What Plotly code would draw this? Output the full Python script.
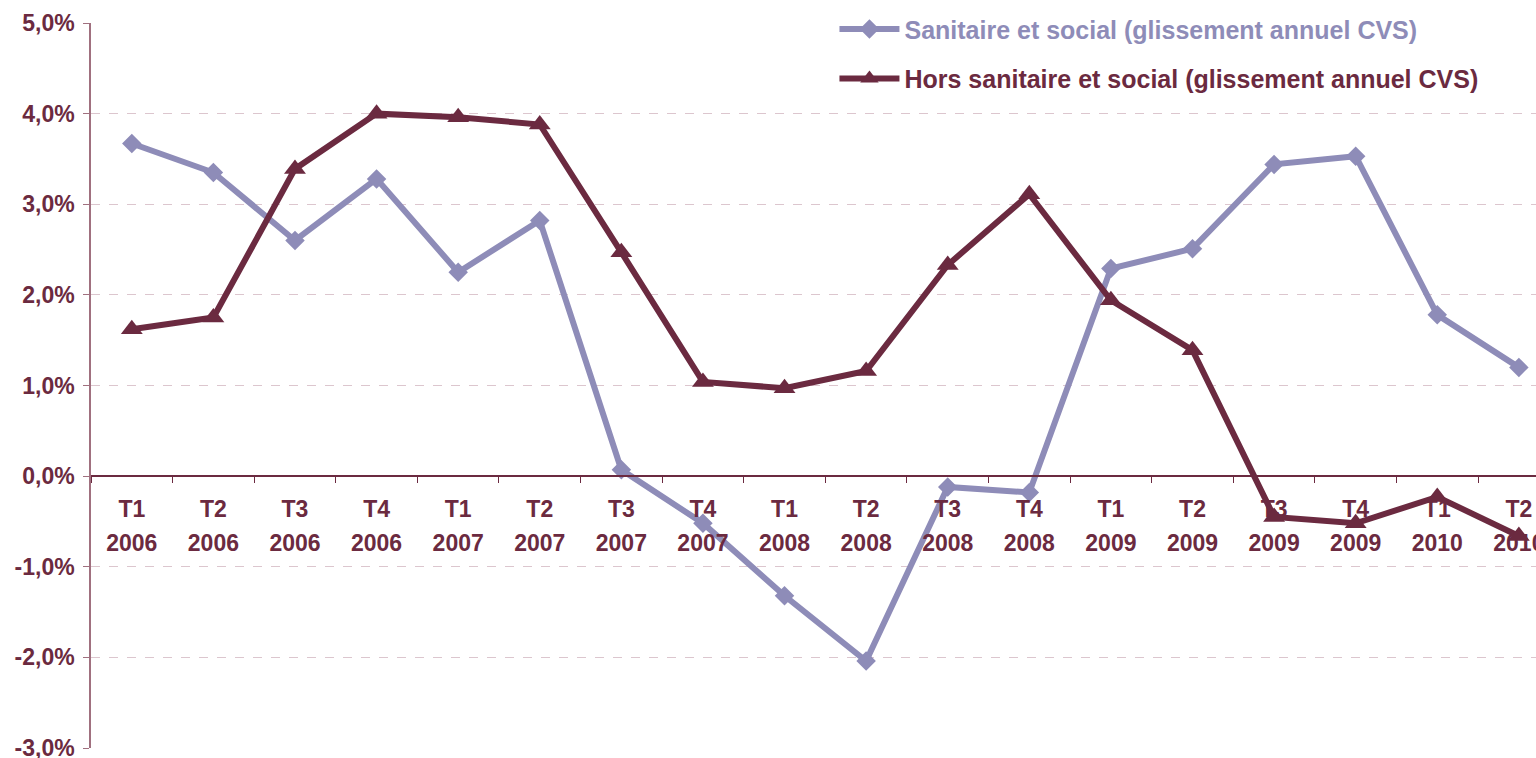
import plotly.graph_objects as go

quarters = ["T1", "T2", "T3", "T4", "T1", "T2", "T3", "T4", "T1", "T2",
            "T3", "T4", "T1", "T2", "T3", "T4", "T1", "T2"]
years = ["2006", "2006", "2006", "2006", "2007", "2007", "2007", "2007", "2008", "2008",
         "2008", "2008", "2009", "2009", "2009", "2009", "2010", "2010"]
sanitaire = [3.67, 3.35, 2.60, 3.28, 2.25, 2.82, 0.07, -0.52, -1.32, -2.04,
             -0.12, -0.18, 2.29, 2.51, 3.44, 3.53, 1.78, 1.20]
hors = [1.62, 1.75, 3.39, 4.00, 3.96, 3.88, 2.47, 1.04, 0.97, 1.16,
        2.33, 3.11, 1.94, 1.39, -0.45, -0.52, -0.23, -0.66]
ytick_vals = [-3, -2, -1, 0, 1, 2, 3, 4, 5]
ytick_text = ["-3,0%", "-2,0%", "-1,0%", "0,0%", "1,0%", "2,0%", "3,0%", "4,0%", "5,0%"]
name_san = "Sanitaire et social (glissement annuel CVS)"
name_hors = "Hors sanitaire et social (glissement annuel CVS)"

C_LIGHT = "#8e8cb8"
C_DARK = "#6b2a40"
C_AXIS = "#a0707f"
FONT = "Liberation Sans"

idx = list(range(len(quarters)))
boundaries = [i - 0.5 for i in range(len(quarters) + 1)]
xr = [-0.5, 17.21]
zero_pos = 3 / 8

fig = go.Figure()
fig.add_trace(go.Scatter(
    x=idx, y=sanitaire, mode="lines+markers",
    name=f"<span style='color:{C_LIGHT}'>{name_san}</span>",
    line=dict(color=C_LIGHT, width=6),
    marker=dict(symbol="diamond", size=15, color=C_LIGHT),
    legendgroup="a", cliponaxis=False, xaxis="x", yaxis="y"))
fig.add_trace(go.Scatter(
    x=idx, y=hors, mode="lines+markers",
    name=f"<span style='color:{C_DARK}'>{name_hors}</span>",
    line=dict(color=C_DARK, width=6),
    marker=dict(symbol="triangle-up", size=19, color=C_DARK),
    legendgroup="b", cliponaxis=False, xaxis="x2", yaxis="y"))

fig.update_layout(
    width=1536, height=758,
    margin=dict(l=91, r=0, t=23, b=10, autoexpand=False),
    paper_bgcolor="white", plot_bgcolor="white",
    font=dict(family=FONT, size=23, color=C_DARK, weight="bold"),
    showlegend=True,
    legend=dict(x=0.5145, y=1.023, xanchor="left", yanchor="top",
                bgcolor="rgba(0,0,0,0)", itemwidth=60,
                font=dict(family=FONT, size=25, weight="bold"),
                tracegroupgap=14),
    xaxis=dict(range=xr, anchor="free", position=zero_pos, automargin=False,
               tickmode="array", tickvals=idx, ticktext=quarters, ticks="",
               ticklabelstandoff=13, ticklabeloverflow="allow",
               tickfont=dict(family=FONT, size=23, color=C_DARK, weight="bold"),
               minor=dict(tickmode="array", tickvals=boundaries, ticks="outside",
                          ticklen=6, tickcolor=C_DARK, tickwidth=1, showgrid=False),
               showline=True, linecolor=C_DARK, linewidth=1.5,
               showgrid=False, zeroline=False),
    xaxis2=dict(range=xr, overlaying="x", anchor="free", position=zero_pos, side="bottom",
                automargin=False, ticklabeloverflow="allow",
                tickmode="array", tickvals=idx, ticktext=years,
                ticks="", showline=False, showgrid=False, zeroline=False,
                ticklabelstandoff=51,
                tickfont=dict(family=FONT, size=23, color=C_DARK, weight="bold")),
    yaxis=dict(range=[-3, 5], tickmode="array", tickvals=ytick_vals, ticktext=ytick_text,
               automargin=False, ticklabeloverflow="allow",
               ticks="outside", ticklen=6, tickcolor=C_AXIS,
               showline=True, linecolor=C_AXIS, linewidth=1.5,
               showgrid=True, gridcolor="#dcc6ce", griddash="dash", gridwidth=1,
               zeroline=True, zerolinecolor=C_DARK, zerolinewidth=1.5,
               ticklabelstandoff=4,
               tickfont=dict(family=FONT, size=23, color=C_DARK, weight="bold")),
)

fig.write_html("out.html", config={"displayModeBar": False},
               post_script="document.body.style.margin='0';document.body.style.overflow='hidden';")
